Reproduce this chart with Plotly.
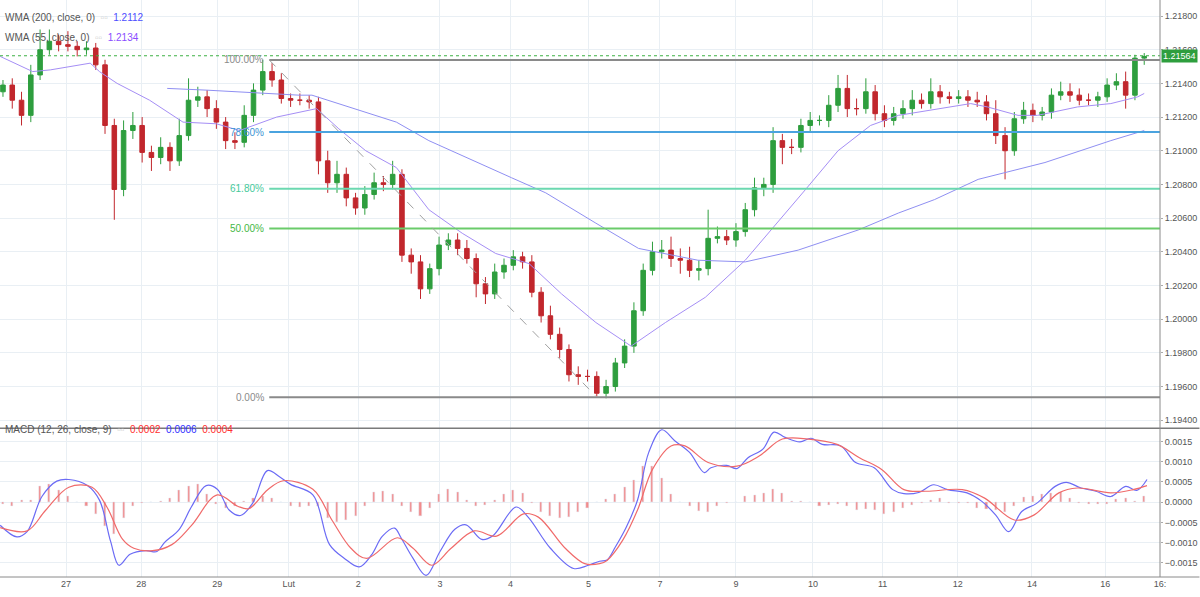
import plotly.graph_objects as go

# --- dane (ceny w pipsach, 1 pips = 0.0001) ---
first_open = 12135
closes = [12139, 12130, 12121, 12145, 12160, 12165, 12163, 12162, 12160, 12161,
          12151, 12115, 12077, 12112, 12115, 12099, 12096, 12102, 12094, 12109,
          12130, 12132, 12125, 12117, 12106, 12105, 12121, 12136, 12147, 12142,
          12131, 12130, 12130, 12129, 12094, 12081, 12086, 12072, 12066, 12074,
          12081, 12080, 12086, 12038, 12034, 12018, 12030, 12044, 12047, 12042,
          12036, 12021, 12015, 12028, 12032, 12037, 12034, 12016, 12002, 11991,
          11982, 11967, 11966, 11966, 11956, 11960, 11974, 11984, 12005, 12029,
          12040, 12041, 12036, 12035, 12029, 12030, 12048, 12049, 12047, 12052,
          12065, 12078, 12080, 12106, 12102, 12102, 12115, 12118, 12118, 12127,
          12137, 12125, 12125, 12135, 12122, 12118, 12122, 12125, 12130, 12128,
          12135, 12132, 12131, 12132, 12130, 12129, 12122, 12109, 12100, 12119,
          12124, 12121, 12123, 12133, 12135, 12133, 12130, 12130, 12132, 12139,
          12141, 12133, 12155, 12156]
wick_up = [3, 4, 5, 6, 12, 7, 4, 8, 3, 4,
           3, 3, 4, 6, 8, 5, 4, 6, 3, 10,
           13, 6, 4, 5, 3, 5, 6, 4, 7, 5,
           4, 3, 4, 3, 3, 6, 8, 4, 3, 5,
           6, 4, 8, 3, 4, 4, 3, 5, 4, 4,
           5, 3, 4, 5, 4, 4, 3, 4, 3, 6,
           4, 3, 5, 4, 3, 4, 3, 4, 5, 4,
           6, 6, 8, 6, 8, 5, 17, 6, 4, 5,
           4, 6, 4, 8, 4, 5, 4, 5, 3, 6,
           8, 8, 6, 8, 4, 5, 4, 5, 6, 4,
           8, 4, 3, 4, 4, 5, 4, 8, 5, 4,
           5, 4, 3, 4, 6, 5, 4, 4, 3, 4,
           5, 6, 2, 2]
wick_dn = [3, 5, 6, 4, 3, 3, 4, 3, 4, 3,
           3, 5, 18, 4, 5, 6, 8, 4, 6, 3,
           3, 4, 5, 4, 5, 4, 3, 4, 3, 4,
           3, 4, 3, 4, 8, 6, 6, 5, 4, 4,
           3, 4, 3, 4, 7, 6, 3, 4, 3, 4,
           3, 8, 6, 3, 4, 3, 4, 3, 4, 3,
           5, 4, 5, 3, 2, 3, 3, 3, 4, 3,
           3, 4, 5, 8, 4, 6, 4, 3, 3, 4,
           3, 4, 5, 5, 10, 4, 3, 4, 3, 4,
           4, 5, 4, 3, 4, 4, 3, 3, 4, 3,
           3, 4, 3, 3, 4, 3, 4, 5, 17, 3,
           3, 4, 3, 4, 3, 4, 3, 3, 4, 3,
           3, 8, 3, 4]

wma55_x = [-0.3, 3.2, 5.1, 9.4, 10.4, 12.3, 15.8, 19.4, 23.0, 25.5, 29.5, 31.9, 33.8, 36.2,
           39.1, 42.4, 45.9, 49.5, 53.1, 56.7, 60.2, 63.9, 67.7, 71.4, 75.7, 80.0, 82.8,
           86.5, 90.0, 93.5, 96.5, 100.8, 104.3, 106.1, 109.4, 111.5, 115.8, 119.4, 122.3, 123.0]
wma55_y = [12156, 12147, 12148, 12152, 12147, 12140, 12130, 12117, 12116, 12112, 12120, 12123, 12125, 12113,
           12100, 12090, 12065, 12051, 12039, 12033, 12015, 11998, 11984, 11998, 12013, 12035, 12053,
           12077, 12100, 12115, 12121, 12125, 12128, 12126, 12121, 12121, 12126, 12128, 12132, 12134]
wma200_x = [17.7, 21.9, 31.9, 33.3, 42.4, 45.9, 54.8, 58.5, 63.9, 68.5, 74.9, 80.0, 85.7,
            92.2, 96.5, 100.4, 105.1, 112.3, 119.4, 123.0]
wma200_y = [12137, 12136, 12133, 12133, 12117, 12106, 12084, 12075, 12057, 12042, 12035, 12034, 12041,
            12053, 12063, 12071, 12083, 12093, 12106, 12112]

# MACD (w jednostkach 0.0001)
macd_x = [-0.3, 1.5, 2.6, 4.2, 5.8, 7.1, 9.1, 10.4, 11.6, 12.5, 13.7, 15.4, 16.6, 17.4, 19.0,
          20.3, 21.9, 23.1, 24.4, 25.6, 26.9, 28.5, 29.8, 31.0, 33.4, 35.2, 36.8, 38.4, 39.7,
          40.9, 42.2, 42.9, 44.2, 45.6, 47.1, 48.7, 49.9, 51.6, 52.8, 55.3, 56.6, 59.0, 61.5,
          63.1, 64.3, 65.1, 66.0, 67.2, 68.4, 69.6, 71.0, 72.4, 74.0, 75.6, 76.3, 78.0, 79.1,
          80.3, 81.9, 83.1, 84.3, 85.9, 87.1, 88.3, 90.3, 91.9, 93.9, 95.9, 97.1, 98.7, 100.3,
          101.8, 103.9, 105.5, 107.0, 108.4, 109.8, 111.4, 113.4, 114.6, 116.2, 117.8, 119.4,
          121.0, 122.2, 123.3]
macd_v = [-5.7, -8.6, -7.3, 1.4, 5.2, 5.6, 4.1, 0.5, -9.7, -15.6, -12.9, -12.0, -12.2, -10.0, -6.7,
          -1.2, 4.1, 3.2, -2.0, -3.3, -0.3, 7.8, 6.3, 4.4, 1.8, -10.5, -13.9, -16.0, -13.1,
          -8.4, -6.4, -8.8, -13.9, -18.1, -12.2, -6.7, -5.6, -9.2, -8.3, -1.2, -3.7, -11.4, -16.4,
          -15.6, -14.6, -14.3, -11.1, -6.1, 0.6, 12.3, 17.9, 15.2, 12.3, 7.3, 8.5, 9.1, 8.3,
          11.0, 13.1, 17.3, 16.0, 14.9, 15.8, 14.3, 13.9, 9.8, 8.5, 3.1, 2.1, 2.4, 4.3,
          3.1, 2.3, 0.2, -3.2, -7.3, -2.3, -0.3, 3.9, 4.9, 3.5, 2.7, 1.4,
          3.9, 2.9, 5.6]
signal_x = [-0.3, 2.6, 4.6, 7.1, 9.6, 11.2, 12.9, 14.1, 16.1, 18.2, 20.3, 23.1, 25.3, 26.5, 28.5,
            30.2, 33.4, 35.5, 37.5, 39.2, 42.5, 44.2, 46.2, 48.3, 50.8, 53.2, 56.1, 57.7, 60.6,
            62.7, 64.3, 65.1, 66.8, 68.4, 70.0, 72.0, 73.5, 76.0, 79.1, 81.5, 84.0, 86.8, 89.9,
            92.3, 94.7, 97.1, 99.5, 103.4, 105.8, 109.0, 111.1, 113.8, 115.8, 119.4, 121.8, 123.3]
signal_v = [-6.3, -7.1, -2.0, 3.7, 3.7, -1.2, -9.2, -11.4, -12.0, -10.5, -5.8, 1.8, -1.0, -1.6, 3.0,
            5.3, 3.2, -4.6, -11.4, -13.9, -8.8, -11.4, -15.6, -11.4, -7.1, -8.4, -2.9, -3.7, -11.4,
            -15.2, -15.2, -14.4, -9.4, -1.9, 8.1, 13.9, 13.9, 9.8, 8.9, 11.4, 15.6, 15.6, 14.3,
            11.0, 8.1, 3.1, 2.7, 3.1, 1.0, -4.4, -3.2, 2.3, 3.5, 2.3, 3.1, 4.1]
hist_v = [-0.5, -1, 0.5, 0.5, 4, 4.5, 3, 1.5, 0, -1,
          -3, -6, -8, -4, -1, -0.3, 0, 0.3, 1, 3,
          4, 4.5, 2, -0.5, -1.5, -1, 0.3, 1, 1.5, 1,
          0, -1, -1.2, -1, -1, -4, -5, -4.5, -3.5, -1,
          2.5, 2.8, 2, -1, -2.5, -3.5, -1.5, 2, 3.2, 2.5,
          0.5, -1, -0.8, 0.5, 2, 3, 2.2, -0.3, -2.5, -3.5,
          -4, -3.8, -2.5, -1.5, 0, 0.8, 2, 3.8, 5.5, 9,
          9, 6, 2, 0, -1, -2.3, -2.5, -1, -0.3, 0,
          1.5, 1.8, 2.2, 3.3, 2.2, 0.3, 0.3, 0, -1, -0.8,
          -0.5, -1, -2, -1.8, -2, -3, -2.5, -1.5, -0.8, -0.3,
          0.5, 1, -0.3, -0.3, -0.3, -1.5, -1.8, -2, -2.5, -1,
          1.2, 1.5, 2, 2.3, 2.5, 1, -0.3, -0.5, -0.6, -0.5,
          0.8, 1, 0.2, 1.5]

day_ticks = [6.8, 14.9, 23.1, 30.8, 38.3, 47.1, 54.7, 63.1, 70.8, 79.0, 87.3, 94.8, 102.9, 110.9, 118.8, 124.7]
day_labels = ["27", "28", "29", "Lut", "2", "3", "4", "5", "7", "9", "10", "11", "12", "14", "16", "16:"]

fib_high = 1.21539
fib_low = 1.19537
fib_levels = [(1.0, "100.00%", "#8a8a8a", "#8a8a8a"),
              (0.786, "78.60%", "#3d95d4", "#4aa3df"),
              (0.618, "61.80%", "#45c99a", "#6bd8b0"),
              (0.5, "50.00%", "#45b845", "#6acb6a"),
              (0.0, "0.00%", "#8a8a8a", "#8a8a8a")]
fib_start = 28.7
last_price = 1.21564

# --- budowa ---
n = len(closes)
bars = list(range(n))
opens = [first_open] + closes[:-1]
highs = [max(o, c) + w for o, c, w in zip(opens, closes, wick_up)]
lows = [min(o, c) - w for o, c, w in zip(opens, closes, wick_dn)]
p = lambda arr: [v / 10000 for v in arr]

GREEN = "#2e9e3e"
RED = "#c1272d"
GRID = "#e9eff4"
FONT = "Liberation Sans"
x_range = [-0.32, 124.7]
R_MARGIN = 40

fig = go.Figure()
fig.add_trace(go.Candlestick(
    x=bars, open=p(opens), high=p(highs), low=p(lows), close=p(closes),
    increasing=dict(line=dict(color=GREEN, width=1), fillcolor=GREEN),
    decreasing=dict(line=dict(color=RED, width=1), fillcolor=RED),
    whiskerwidth=0, xaxis="x", yaxis="y", showlegend=False))
fig.add_trace(go.Scatter(x=wma200_x, y=p(wma200_y), mode="lines",
                         line=dict(color="#8f8ff2", width=1), yaxis="y", showlegend=False))
fig.add_trace(go.Scatter(x=wma55_x, y=p(wma55_y), mode="lines",
                         line=dict(color="#a58ef5", width=1), yaxis="y", showlegend=False))
fig.add_trace(go.Bar(x=bars, y=[v / 10000 for v in hist_v], marker_color="#f28b8b",
                     width=0.22, xaxis="x", yaxis="y2", showlegend=False))
fig.add_trace(go.Scatter(x=macd_x, y=[v / 10000 for v in macd_v], mode="lines", line_shape="spline",
                         line=dict(color="#6b6bf5", width=1.2), yaxis="y2", showlegend=False))
fig.add_trace(go.Scatter(x=signal_x, y=[v / 10000 for v in signal_v], mode="lines", line_shape="spline",
                         line=dict(color="#f06a6a", width=1.2), yaxis="y2", showlegend=False))

shapes = []
annotations = []
for ratio, label, tcolor, lcolor in fib_levels:
    lvl = fib_low + ratio * (fib_high - fib_low)
    shapes.append(dict(type="line", xref="x", yref="y", x0=fib_start, x1=x_range[1], y0=lvl, y1=lvl,
                       line=dict(color=lcolor, width=2)))
    annotations.append(dict(x=fib_start - 0.3, y=lvl, xref="x", yref="y", text=label, showarrow=False,
                            xanchor="right", font=dict(color=tcolor, size=10, family=FONT)))
shapes.append(dict(type="line", xref="x", yref="y", x0=fib_start, x1=64, y0=fib_high, y1=fib_low,
                   line=dict(color="#a0a0a0", width=1, dash="dash")))
shapes.append(dict(type="line", xref="paper", yref="y", x0=0, x1=1, y0=last_price, y1=last_price,
                   line=dict(color="#3cb043", width=1, dash="dot")))
# separator paneli
shapes.append(dict(type="line", xref="paper", yref="paper", x0=0, x1=1.034, y0=0.258, y1=0.258,
                   line=dict(color="#7a7a7a", width=1.5)))
shapes.append(dict(type="line", xref="paper", yref="paper", x0=1, x1=1, y0=0, y1=1,
                   line=dict(color="#8a8a8a", width=1)))
shapes.append(dict(type="line", xref="paper", yref="paper", x0=0, x1=1.034, y0=0, y1=0,
                   line=dict(color="#8a8a8a", width=1)))

annotations.append(dict(x=1.001, y=last_price, xref="paper", yref="y", text="1.21564", showarrow=False,
                        xanchor="left", bgcolor=GREEN, font=dict(color="white", size=9, family=FONT),
                        borderpad=1))

def legend_line(y, parts):
    annotations.append(dict(x=0.003, y=y, xref="paper", yref="paper", xanchor="left", showarrow=False,
                            text="&nbsp;&nbsp;".join(f"<span style='color:{c}'>{t}</span>" for t, c in parts),
                            font=dict(size=10, family=FONT)))

legend_line(0.982, [("WMA (200, close, 0)", "#555"), ("▫▫", "#ccc"), ("1.2112", "#4d4dff")])
legend_line(0.948, [("WMA (55, close, 0)", "#555"), ("▫▫", "#ccc"), ("1.2134", "#8a4dff")])
legend_line(0.242, [("MACD (12, 26, close, 9)", "#555"), ("▫▫", "#ccc"), ("0.0002", "#ff3030"),
                    ("0.0006", "#3030ff"), ("0.0004", "#ff3030")])

axis_common = dict(showgrid=True, gridcolor=GRID, zeroline=False, showline=False,
                   tickfont=dict(size=9, color="#555", family=FONT))
fig.update_layout(
    width=1200, height=597, plot_bgcolor="white", paper_bgcolor="white",
    margin=dict(l=0, r=R_MARGIN, t=0, b=20), bargap=0,
    shapes=shapes, annotations=annotations,
    xaxis=dict(range=x_range, tickvals=day_ticks, ticktext=day_labels, rangeslider=dict(visible=False),
               anchor="y2", ticks="", **axis_common),
    yaxis=dict(domain=[0.258, 1], range=[1.19353, 1.21895], side="right", tickformat=".5f",
               tickvals=[1.194 + 0.002 * k for k in range(13)], ticks="outside", ticklen=2,
               tickcolor="#aaa", **axis_common),
    yaxis2=dict(domain=[0, 0.258], range=[-0.00185, 0.00183], side="right", tickformat=".4f",
                tickvals=[-0.0015, -0.001, -0.0005, 0, 0.0005, 0.001, 0.0015], ticks="outside",
                ticklen=2, tickcolor="#aaa", **axis_common),
)

fig.write_html("out.html", config={"displayModeBar": False},
               post_script="document.body.style.margin='0';")
